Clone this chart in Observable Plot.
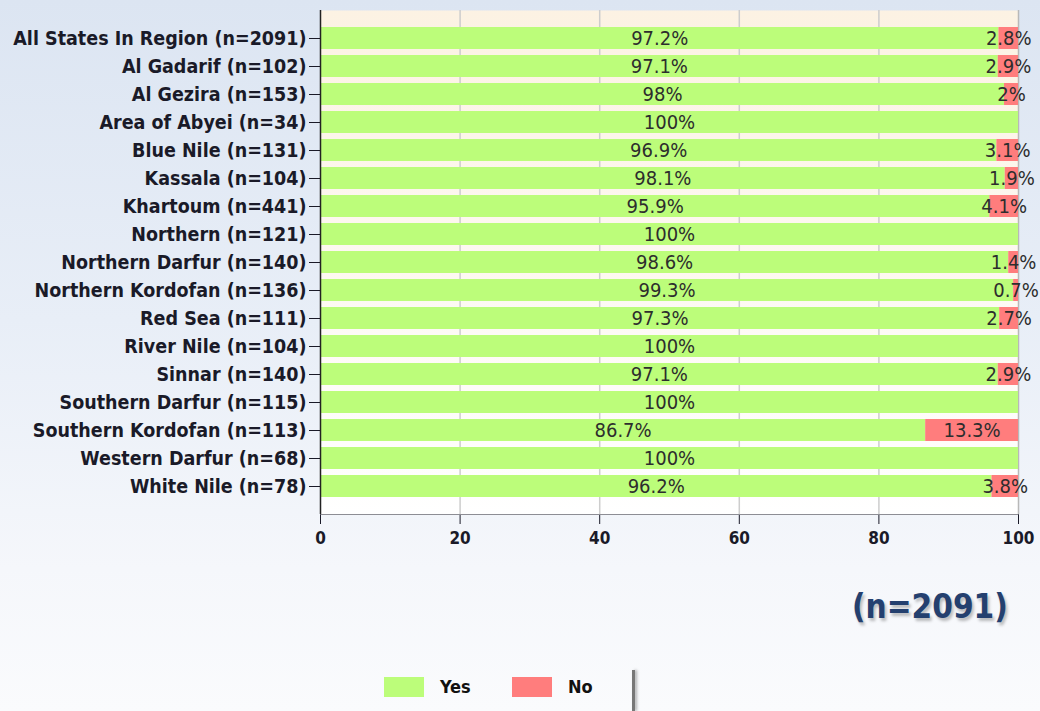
<!DOCTYPE html>
<html><head><meta charset="utf-8">
<script src="https://cdn.jsdelivr.net/npm/d3@7"></script>
<script src="https://cdn.jsdelivr.net/npm/@observablehq/plot@0.6"></script>
<style>
html,body{margin:0;padding:0;}
#wrap{position:relative;width:1040px;height:711px;overflow:hidden;
 background:linear-gradient(180deg,#dce5f2 0%,#e8eef7 45%,#f5f7fb 80%,#fafbfd 100%);
 font-family:"DejaVu Sans Condensed","DejaVu Sans",sans-serif;}
#chart{position:absolute;left:0;top:0;}
#chart svg{background:transparent;}
#chart g[aria-label^="y-axis"] text{font-weight:bold;fill:#1a1a28;font-size:19.5px;}
#ntext{position:absolute;left:852px;top:587px;font-size:33px;font-weight:bold;color:#24406f;
 text-shadow:2px 3px 3px rgba(0,0,0,0.25);}
#legend{position:absolute;left:384px;top:677px;height:22px;font-size:18px;font-weight:bold;color:#111;}
.sw{position:absolute;top:0;width:40px;height:20px;}
.lt{position:absolute;top:-1px;line-height:22px;}
#vline{position:absolute;left:632px;top:670px;width:3px;height:41px;background:#777;box-shadow:2px 0 3px rgba(0,0,0,0.3);}
</style></head>
<body><div id="wrap"><div id="chart"></div><div id="ntext">(n=2091)</div>
<div id="legend"></div><div id="vline"></div></div>
<script>
const categories = ["All States In Region (n=2091)","Al Gadarif (n=102)","Al Gezira (n=153)","Area of Abyei (n=34)","Blue Nile (n=131)","Kassala (n=104)","Khartoum (n=441)","Northern (n=121)","Northern Darfur (n=140)","Northern Kordofan (n=136)","Red Sea (n=111)","River Nile (n=104)","Sinnar (n=140)","Southern Darfur (n=115)","Southern Kordofan (n=113)","Western Darfur (n=68)","White Nile (n=78)"];
const yesValues = [97.2,97.1,98,100,96.9,98.1,95.9,100,98.6,99.3,97.3,100,97.1,100,86.7,100,96.2];
const noValues  = [2.8,2.9,2,0,3.1,1.9,4.1,0,1.4,0.7,2.7,0,2.9,0,13.3,0,3.8];
const answers = ["Yes","No"];
const colors = ["#bcfd7a","#ff7d7d"];
const xTicks = [0,20,40,60,80,100];

const long = [];
categories.forEach((c,i)=>{
  long.push({cat:c, answer:"Yes", value:yesValues[i]});
  long.push({cat:c, answer:"No", value:noValues[i]});
});

const plot = Plot.plot({
  width:1040, height:560,
  marginLeft:320, marginRight:22, marginTop:10, marginBottom:46,
  style:{fontSize:"15px", fontFamily:"'DejaVu Sans Condensed','DejaVu Sans',sans-serif", background:"transparent", color:"#1a1a28"},
  x:{domain:[0,100], ticks:xTicks, tickSize:10, tickFormat:()=>"", label:null, line:true},
  y:{domain:categories, paddingInner:0.2, paddingOuter:0.6, tickSize:11, tickPadding:3, label:null},
  color:{domain:answers, range:colors},
  marks:[
    Plot.frame({fill:"url(#plotbg)", stroke:"none"}),
    Plot.ruleX(xTicks.slice(1,-1), {stroke:"#cdcdcd", strokeWidth:1.5}),
    Plot.ruleX([100], {stroke:"#b8b8b8", strokeWidth:1.5}),
    Plot.barX(long, Plot.stackX({x:"value", y:"cat", fill:"answer", order:answers})),
    Plot.text(long, Plot.stackX({x:"value", y:"cat", z:"answer", order:answers, filter:d=>d.value>0,
      text:d=>d.value+"%", fontSize:20, fill:"#2d2d2d"})),
    Plot.ruleX([0], {stroke:"#222", strokeWidth:1.5}),
    Plot.text(xTicks, {x:d=>d, text:d=>String(d), frameAnchor:"bottom", dy:29,
      fontSize:17, fontWeight:"bold", fill:"#1a1a28"})
  ]
});
document.getElementById("chart").appendChild(plot);
const svg = d3.select(plot);
const defs = svg.insert("defs",":first-child");
const g = defs.append("linearGradient").attr("id","plotbg").attr("x1",0).attr("x2",0).attr("y1",0).attr("y2",1);
g.append("stop").attr("offset","0%").attr("stop-color","#fcf2e3");
g.append("stop").attr("offset","50%").attr("stop-color","#fdf8f1");
g.append("stop").attr("offset","100%").attr("stop-color","#ffffff");

const leg = document.getElementById("legend");
const pos = [[0,56],[128,184]];
answers.forEach((a,i)=>{
  const s=document.createElement("div"); s.className="sw"; s.style.left=pos[i][0]+"px"; s.style.background=colors[i]; leg.appendChild(s);
  const t=document.createElement("div"); t.className="lt"; t.style.left=pos[i][1]+"px"; t.textContent=a; leg.appendChild(t);
});
</script></body></html>
